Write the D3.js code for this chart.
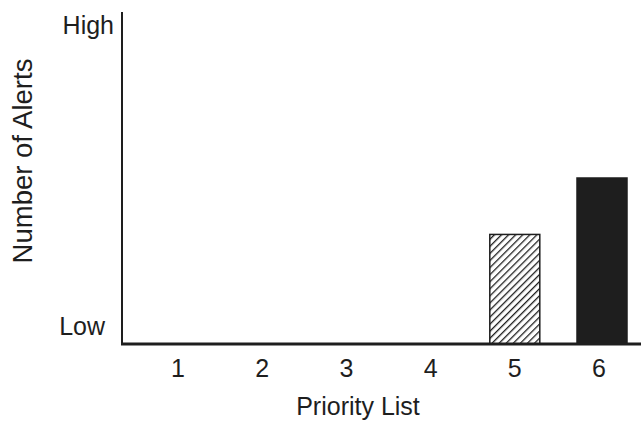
<!DOCTYPE html>
<html><head><meta charset="utf-8">
<script src="https://cdn.jsdelivr.net/npm/d3@7"></script>
<style>body{margin:0;background:#fff}svg{display:block}text{font-family:"Liberation Sans",Arial,sans-serif;fill:#1e1e1e}</style>
</head><body>
<script>
const categories = ["1","2","3","4","5","6"];
const values = [0, 0, 0, 0, 33, 50];
const fills = ["none","none","none","none","hatch","solid"];
const yTickLabels = ["Low","High"];
const yTickValues = [5.5, 96];

const W = 641, H = 424;
const svg = d3.select("body").append("svg").attr("width", W).attr("height", H);
const defs = svg.append("defs");
const pat = defs.append("pattern").attr("id","hatch").attr("patternUnits","userSpaceOnUse")
  .attr("width",5).attr("height",5).attr("patternTransform","rotate(45)");
pat.append("rect").attr("width",5).attr("height",5).attr("fill","#fff");
pat.append("line").attr("x1",0).attr("y1",0).attr("x2",0).attr("y2",5).attr("stroke","#1e1e1e").attr("stroke-width",2.6);

const x = d3.scalePoint().domain(categories).range([178, 599]);
const y = d3.scaleLinear().domain([0,100]).range([344, 12]);
const bw = 50;

const data = categories.map((c,i)=>({c, v: values[i], f: fills[i]}));
svg.selectAll("rect.bar").data(data.filter(d=>d.v>0)).enter().append("rect")
  .attr("class","bar")
  .attr("x", d=>x(d.c)-bw/2 + (d.c==="6"?3:0)).attr("width", bw)
  .attr("y", d=>y(d.v)).attr("height", d=>y(0)-y(d.v))
  .attr("fill", d=>d.f==="hatch"?"url(#hatch)":"#1e1e1e")
  .attr("stroke","#1e1e1e").attr("stroke-width",1.5);

// axes
svg.append("line").attr("x1",122).attr("x2",122).attr("y1",y(100)).attr("y2",y(0)+1)
  .attr("stroke","#1e1e1e").attr("stroke-width",2);
svg.append("line").attr("x1",121).attr("x2",W).attr("y1",y(0)).attr("y2",y(0))
  .attr("stroke","#1e1e1e").attr("stroke-width",3);

svg.selectAll("text.xt").data(categories).enter().append("text").attr("class","xt")
  .attr("x", d=>x(d)).attr("y", 377).attr("text-anchor","middle").attr("font-size",25).text(d=>d);

svg.selectAll("text.yt").data(yTickLabels).enter().append("text").attr("class","yt")
  .attr("x", (d,i)=> i===0 ? 105 : 114).attr("y", (d,i)=>y(yTickValues[i])+9)
  .attr("text-anchor","end").attr("font-size",25).text(d=>d);

svg.append("text").attr("x", 358).attr("y", 415).attr("text-anchor","middle").attr("font-size",25).text("Priority List");
svg.append("text").attr("transform","translate(32,161) rotate(-90)").attr("text-anchor","middle").attr("font-size",27.5).text("Number of Alerts");
</script>
</body></html>
